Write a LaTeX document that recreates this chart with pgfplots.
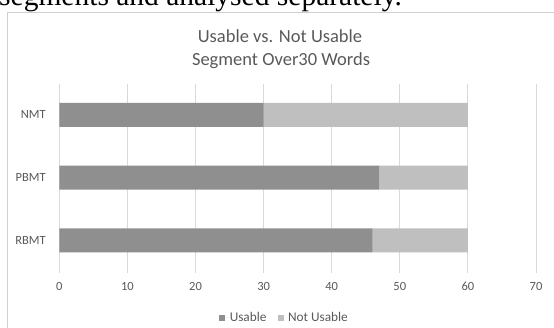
\documentclass[border=0pt]{standalone}
\usepackage{pgfplots}
\pgfplotsset{compat=1.18}
\usepackage{fontspec}
\setmainfont{Carlito}
\newfontfamily\timesfont{Liberation Serif}
\definecolor{usable}{HTML}{8F8F8F}
\definecolor{notusable}{HTML}{BFBFBF}
\definecolor{gridc}{HTML}{D9D9D9}
\definecolor{txt}{HTML}{595959}
\definecolor{framec}{HTML}{D0D0D0}
\begin{document}
\begin{tikzpicture}
\useasboundingbox (0,0) rectangle (554pt,-327pt);
\clip (0,0) rectangle (554pt,-327pt);
% cut-off text line above the chart
\node[anchor=base west, inner sep=0pt, font=\timesfont\fontsize{29.5}{32}\selectfont] at (-1pt,-5pt) {segments and analysed separately.};
% chart frame
\draw[framec, line width=0.8pt] (7pt,-340pt) -- (7pt,-12pt) -- (570pt,-12pt);
\begin{axis}[
  at={(59.3pt,-273pt)}, anchor=south west,
  scale only axis, width=476.7pt, height=189pt,
  xbar stacked, bar width=24pt,
  xmin=0, xmax=70, ymin=-0.52, ymax=2.49,
  xtick={0,10,...,70},
  ytick={0,1,2}, yticklabels={RBMT,PBMT,NMT},
  axis line style={draw=none}, tick style={draw=none},
  xmajorgrids, grid style={gridc, line width=0.9pt},
  /pgf/number format/assume math mode=true,
  ticklabel style={font=\fontsize{12.5}{14}\selectfont, text=txt},
  xticklabel style={yshift=-6pt},
  yticklabel style={xshift=-10pt},
  legend style={at={(0.4725,-0.238)}, anchor=center, draw=none, fill=none,
    font=\fontsize{13.3}{15}\selectfont, text=txt, legend columns=2,
    /tikz/every odd column/.append style={column sep=0pt},
    /tikz/every even column/.append style={column sep=9pt}},
  legend image code/.code={\fill[#1] (0pt,-3pt) rectangle (6pt,3pt); \path (0pt,0pt) -- (8.5pt,0pt);},
]
\addplot[fill=usable, draw=none] coordinates {(46,0) (47,1) (30,2)};
\addplot[fill=notusable, draw=none] coordinates {(14,0) (13,1) (30,2)};
\legend{Usable, Not Usable}
\end{axis}
\node[anchor=base, inner sep=0pt, text=txt, font=\fontsize{18.5}{22}\selectfont] at (280pt,-42pt) {Usable vs. Not Usable};
\node[anchor=base, inner sep=0pt, text=txt, font=\fontsize{18.5}{22}\selectfont] at (281pt,-65pt) {Segment Over30 Words};
\end{tikzpicture}
\end{document}
